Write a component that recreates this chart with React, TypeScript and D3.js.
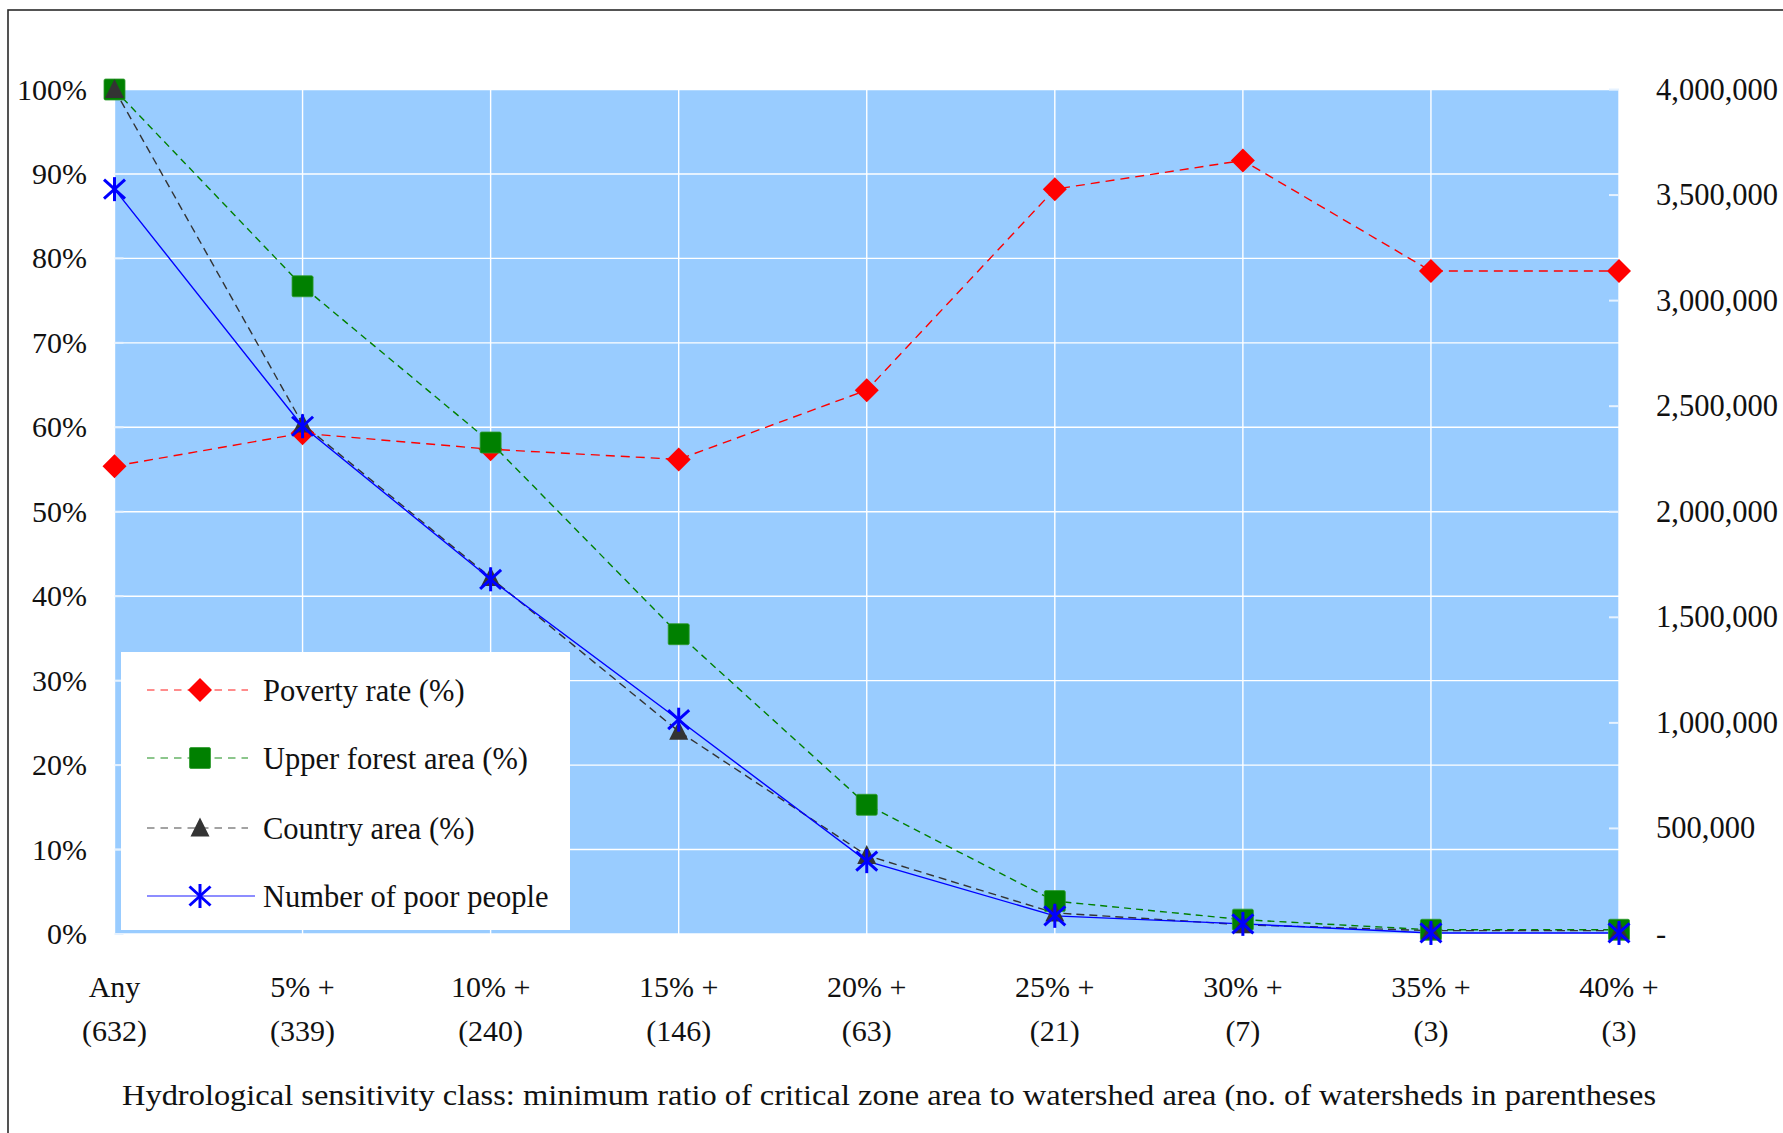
import React from "react";
import * as d3 from "d3";

const categories = ["Any", "5% +", "10% +", "15% +", "20% +", "25% +", "30% +", "35% +", "40% +"];
const watershedCounts = ["(632)", "(339)", "(240)", "(146)", "(63)", "(21)", "(7)", "(3)", "(3)"];
const povertyRate = [55.4, 59.3, 57.4, 56.2, 64.4, 88.2, 91.6, 78.5, 78.5];
const upperForestArea = [100, 76.7, 58.2, 35.5, 15.3, 3.9, 1.7, 0.5, 0.5];
const countryArea = [100, 60.4, 42.2, 24.0, 9.3, 2.5, 1.1, 0.4, 0.4];
const poorPeople = [3528000, 2405000, 1680000, 1015000, 345000, 86000, 48000, 5000, 5000];
const leftTicks = [0, 10, 20, 30, 40, 50, 60, 70, 80, 90, 100];
const rightTicks = [0, 500000, 1000000, 1500000, 2000000, 2500000, 3000000, 3500000, 4000000];
const legendLabels = ["Poverty rate (%)", "Upper forest area (%)", "Country area (%)", "Number of poor people"];
const axisTitle =
  "Hydrological sensitivity class: minimum ratio of critical zone area to watershed area (no. of watersheds in parentheses";

const W = 1783;
const H = 1133;
const PL = 114.5;
const PR = 1619;
const PT = 89.5;
const PB = 934;
const FONT = "'Liberation Serif', 'Times New Roman', serif";

const RED = "#ff0000";
const GREEN = "#008000";
const GREY = "#333333";
const BLUE = "#0000ff";

function Diamond({ x, y }: { x: number; y: number }) {
  const r = 12;
  return <path d={`M${x},${y - r}L${x + r},${y}L${x},${y + r}L${x - r},${y}Z`} fill={RED} />;
}
function Square({ x, y }: { x: number; y: number }) {
  return (
    <rect x={x - 10.5} y={y - 10.5} width={21} height={21} rx={1.5} fill={GREEN} stroke="#2f9a2f" strokeWidth={0.8} />
  );
}
function Triangle({ x, y }: { x: number; y: number }) {
  return <path d={`M${x},${y - 10.5}L${x + 9.5},${y + 8.5}L${x - 9.5},${y + 8.5}Z`} fill={GREY} />;
}
function Star({ x, y }: { x: number; y: number }) {
  return (
    <g stroke={BLUE} strokeWidth={3} strokeLinecap="butt">
      <line x1={x} y1={y - 12} x2={x} y2={y + 12} />
      <line x1={x - 10.5} y1={y - 9.5} x2={x + 10.5} y2={y + 9.5} />
      <line x1={x - 10.5} y1={y + 9.5} x2={x + 10.5} y2={y - 9.5} />
    </g>
  );
}

export default function App() {
  const x = d3.scalePoint<string>().domain(categories).range([PL, PR]);
  const yL = d3.scaleLinear().domain([0, 100]).range([PB, PT]);
  const yR = d3.scaleLinear().domain([0, 4000000]).range([PB, PT]);
  const fmt = d3.format(",");

  const lineL = d3
    .line<number>()
    .x((_, i) => x(categories[i]) as number)
    .y((d) => yL(d));
  const lineR = d3
    .line<number>()
    .x((_, i) => x(categories[i]) as number)
    .y((d) => yR(d));

  const series = [
    { vals: povertyRate, path: lineL(povertyRate), color: RED, dash: "9,6", M: Diamond, scale: yL },
    { vals: upperForestArea, path: lineL(upperForestArea), color: GREEN, dash: "7,5", M: Square, scale: yL },
    { vals: countryArea, path: lineL(countryArea), color: GREY, dash: "8,5", M: Triangle, scale: yL },
    { vals: poorPeople, path: lineR(poorPeople), color: BLUE, dash: "", M: Star, scale: yR },
  ];

  const legendY = [690, 758, 828, 896];

  return (
    <svg
      width={W}
      height={H}
      style={{ position: "absolute", left: 0, top: 0, display: "block", background: "#fff" }}
      fontFamily={FONT}
    >
      <rect x={0} y={0} width={W} height={H} fill="#fff" />
      {/* outer chart border */}
      <rect x={8} y={10} width={W + 20} height={H + 20} fill="none" stroke="#2a2a2a" strokeWidth={1.6} />

      {/* plot area */}
      <rect x={PL} y={PT} width={PR - PL} height={PB - PT} fill="#99ccff" />
      {leftTicks.map((t) => (
        <line key={"hg" + t} x1={PL} x2={PR} y1={yL(t)} y2={yL(t)} stroke="#ffffff" strokeWidth={1.4} />
      ))}
      {categories.map((c) => (
        <line key={"vg" + c} x1={x(c)} x2={x(c)} y1={PT} y2={PB} stroke="#ffffff" strokeWidth={1.4} />
      ))}
      {leftTicks.map((t) => (
        <line key={"lt" + t} x1={PL} x2={PL + 9} y1={yL(t)} y2={yL(t)} stroke="#e6f2ff" strokeWidth={2} />
      ))}
      {rightTicks.map((t) => (
        <line key={"rt" + t} x1={PR - 10} x2={PR} y1={yR(t)} y2={yR(t)} stroke="#e6f2ff" strokeWidth={2} />
      ))}

      {/* series lines */}
      {series.map((s, i) => (
        <path
          key={"line" + i}
          d={s.path || ""}
          fill="none"
          stroke={s.color}
          strokeWidth={1.4}
          strokeDasharray={s.dash || undefined}
        />
      ))}
      {/* markers */}
      {series.map((s, i) => (
        <g key={"mk" + i}>
          {s.vals.map((v, j) => (
            <s.M key={j} x={x(categories[j]) as number} y={s.scale(v)} />
          ))}
        </g>
      ))}

      {/* left axis labels */}
      {leftTicks.map((t) => (
        <text key={"ll" + t} x={87} y={yL(t) + 10} textAnchor="end" fontSize={30} fill="#111">
          {t + "%"}
        </text>
      ))}
      {/* right axis labels */}
      {rightTicks.map((t) => (
        <text key={"rl" + t} x={1656} y={yR(t) + 10} textAnchor="start" fontSize={30.5} fill="#111">
          {t === 0 ? "-" : fmt(t)}
        </text>
      ))}
      {/* category labels */}
      {categories.map((c, i) => (
        <g key={"cl" + c}>
          <text x={x(c)} y={997} textAnchor="middle" fontSize={30} fill="#111">
            {c}
          </text>
          <text x={x(c)} y={1041} textAnchor="middle" fontSize={30} fill="#111">
            {watershedCounts[i]}
          </text>
        </g>
      ))}
      <text x={122} y={1105} fontSize={30} fill="#111" textLength={1534} lengthAdjust="spacingAndGlyphs">
        {axisTitle}
      </text>

      {/* legend */}
      <rect x={121} y={652} width={449} height={278} fill="#ffffff" />
      {series.map((s, i) => (
        <g key={"lg" + i}>
          <line
            x1={147}
            x2={s.dash ? 248 : 255}
            y1={legendY[i]}
            y2={legendY[i]}
            stroke={s.color}
            strokeOpacity={0.6}
            strokeWidth={1.5}
            strokeDasharray={s.dash ? "7.5,6" : undefined}
          />
          <s.M x={200} y={legendY[i]} />
          <text x={263} y={legendY[i] + 11} fontSize={30.5} fill="#111">
            {legendLabels[i]}
          </text>
        </g>
      ))}
    </svg>
  );
}
